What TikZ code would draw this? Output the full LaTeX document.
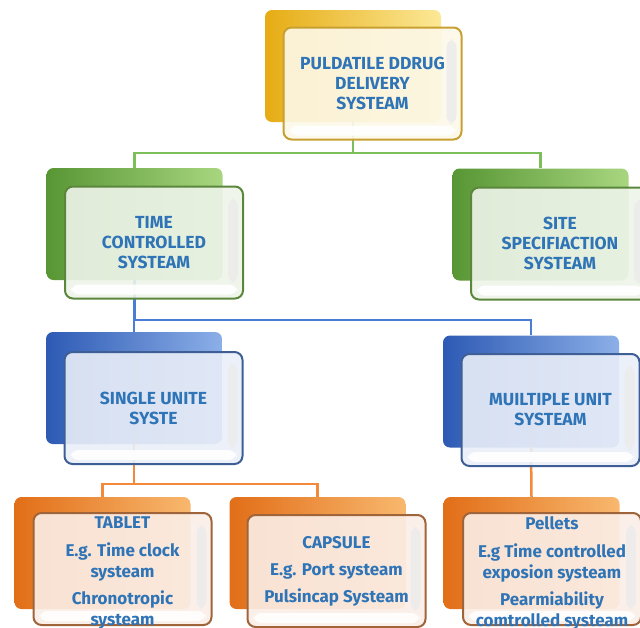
\documentclass[tikz,border=0pt]{standalone}
\usepackage{fontspec}
\setmainfont{Fira Sans}
\usetikzlibrary{positioning}

\definecolor{textblue}{RGB}{46,116,182}
\definecolor{goldL}{RGB}{230,172,20}
\definecolor{goldM}{RGB}{246,205,50}
\definecolor{goldR}{RGB}{252,232,150}
\definecolor{greenL}{RGB}{88,150,52}
\definecolor{greenM}{RGB}{115,180,75}
\definecolor{greenR}{RGB}{168,214,128}
\definecolor{blueL}{RGB}{45,90,180}
\definecolor{blueM}{RGB}{68,114,200}
\definecolor{blueR}{RGB}{140,175,232}
\definecolor{orangeL}{RGB}{226,110,24}
\definecolor{orangeM}{RGB}{240,138,44}
\definecolor{orangeR}{RGB}{248,184,110}
\definecolor{linkgreen}{RGB}{124,190,90}
\definecolor{linkblue}{RGB}{74,126,214}
\definecolor{linkorange}{RGB}{243,137,59}

\tikzset{
  backbox/.style={rounded corners=7pt, minimum width=176pt, minimum height=112pt, inner sep=0pt},
  frontbox/.style={draw, line width=2pt, rounded corners=8pt, minimum width=178pt,
    minimum height=112pt, inner sep=2pt, fill opacity=0.9, text opacity=1,
    path picture={\fill[gray!15] ([xshift=-15pt,yshift=-12pt]path picture bounding box.north east)
      rectangle ([xshift=-5pt,yshift=16pt]path picture bounding box.south east);
      \fill[white] ([xshift=6pt,yshift=14pt]path picture bounding box.south west)
      rectangle ([xshift=-6pt,yshift=4pt]path picture bounding box.south east);}},
  boxtext/.style={text=textblue, align=center, font=\bfseries\fontsize{17.5}{20}\selectfont},
  lowtext/.style={boxtext, font=\bfseries\fontsize{17}{21}\selectfont},
  yellowback/.style={backbox, left color=goldL, middle color=goldM, right color=goldR},
  greenback/.style={backbox, left color=greenL, middle color=greenM, right color=greenR},
  blueback/.style={backbox, left color=blueL, middle color=blueM, right color=blueR},
  orangeback/.style={backbox, left color=orangeL, middle color=orangeM, right color=orangeR},
  yellowfront/.style={frontbox, draw={rgb,255:red,200;green,160;blue,50}, fill={rgb,255:red,253;green,248;blue,232}},
  greenfront/.style={frontbox, draw={rgb,255:red,90;green,135;blue,60}, fill={rgb,255:red,238;green,244;blue,234}},
  bluefront/.style={frontbox, draw={rgb,255:red,62;green,95;blue,150}, fill={rgb,255:red,233;green,238;blue,248}},
  orangefront/.style={frontbox, draw={rgb,255:red,160;green,100;blue,58}, fill={rgb,255:red,251;green,238;blue,231}},
  link/.style={line width=2.5pt}
}

\begin{document}
\begin{tikzpicture}[x=1pt, y=-1pt]
    \useasboundingbox (0,0) rectangle (640,627);

    % Back boxes
    \node[yellowback] (topB) at (353,66) {};
    \node[greenback] (timeB) at (134.5,224) {};
    \node[greenback] (siteB) at (540.5,224.5) {};
    \node[blueback] (singleB) at (134,388) {};
    \node[blueback] (multiB) at (531,391.5) {};
    \node[orangeback] (tabB) at (102.5,553) {};
    \node[orangeback] (capB) at (317.5,553) {};
    \node[orangeback] (pelB) at (531.5,553) {};

    % Connectors
    \draw[link, linkgreen] (topB.south) -- ++(0,31) -| (timeB.north);
    \draw[link, linkgreen] (topB.south) -- ++(0,31) -| (siteB.north);
    \draw[link, linkblue] (timeB.south) -- ++(0,40) -| (singleB.north);
    \draw[link, linkblue] (timeB.south) -- ++(0,40) -| (multiB.north);
    \draw[link, linkorange] (singleB.south) -- ++(0,40) -| (tabB.north);
    \draw[link, linkorange] (singleB.south) -- ++(0,40) -| (capB.north);
    \draw[link, linkorange] (multiB.south) -- (pelB.north);

    % Front boxes
    \node[yellowfront, boxtext] (topF) at ([shift={(19.5,17.5)}]topB)
        {PULDATILE DDRUG\\DELIVERY\\SYSTEAM};
    \node[greenfront, boxtext] (timeF) at ([shift={(19.5,18.5)}]timeB)
        {TIME\\CONTROLLED\\SYSTEAM};
    \node[greenfront, boxtext] (siteF) at ([shift={(19.5,19)}]siteB)
        {SITE\\SPECIFIACTION\\SYSTEAM};
    \node[bluefront, boxtext] (singleF) at ([shift={(19.5,20)}]singleB)
        {SINGLE UNITE\\SYSTE};
    \node[bluefront, boxtext] (multiF) at ([shift={(19.5,18.5)}]multiB)
        {MUILTIPLE UNIT\\SYSTEAM};
    \node[orangefront] (tabF) at ([shift={(20,16)}]tabB) {};
    \node[orangefront, lowtext] (capF) at ([shift={(19,18)}]capB)
        {CAPSULE\\[6pt]E.g. Port systeam\\[6pt]Pulsincap Systeam};
    \node[orangefront] (pelF) at ([shift={(20.5,16)}]pelB) {};

    % Texts running past the lower edge
    \node[lowtext, anchor=north] (tabT) at ([yshift=-1pt]tabF.north)
        {TABLET\\[7pt]E.g. Time clock\\systeam\\[6pt]Chronotropic\\systeam};
    \node[lowtext, anchor=north] (pelT) at ([yshift=-1pt]pelF.north)
        {Pellets\\[7pt]E.g Time controlled\\exposion systeam\\[6pt]Pearmiability\\comtrolled systeam};
\end{tikzpicture}
\end{document}
